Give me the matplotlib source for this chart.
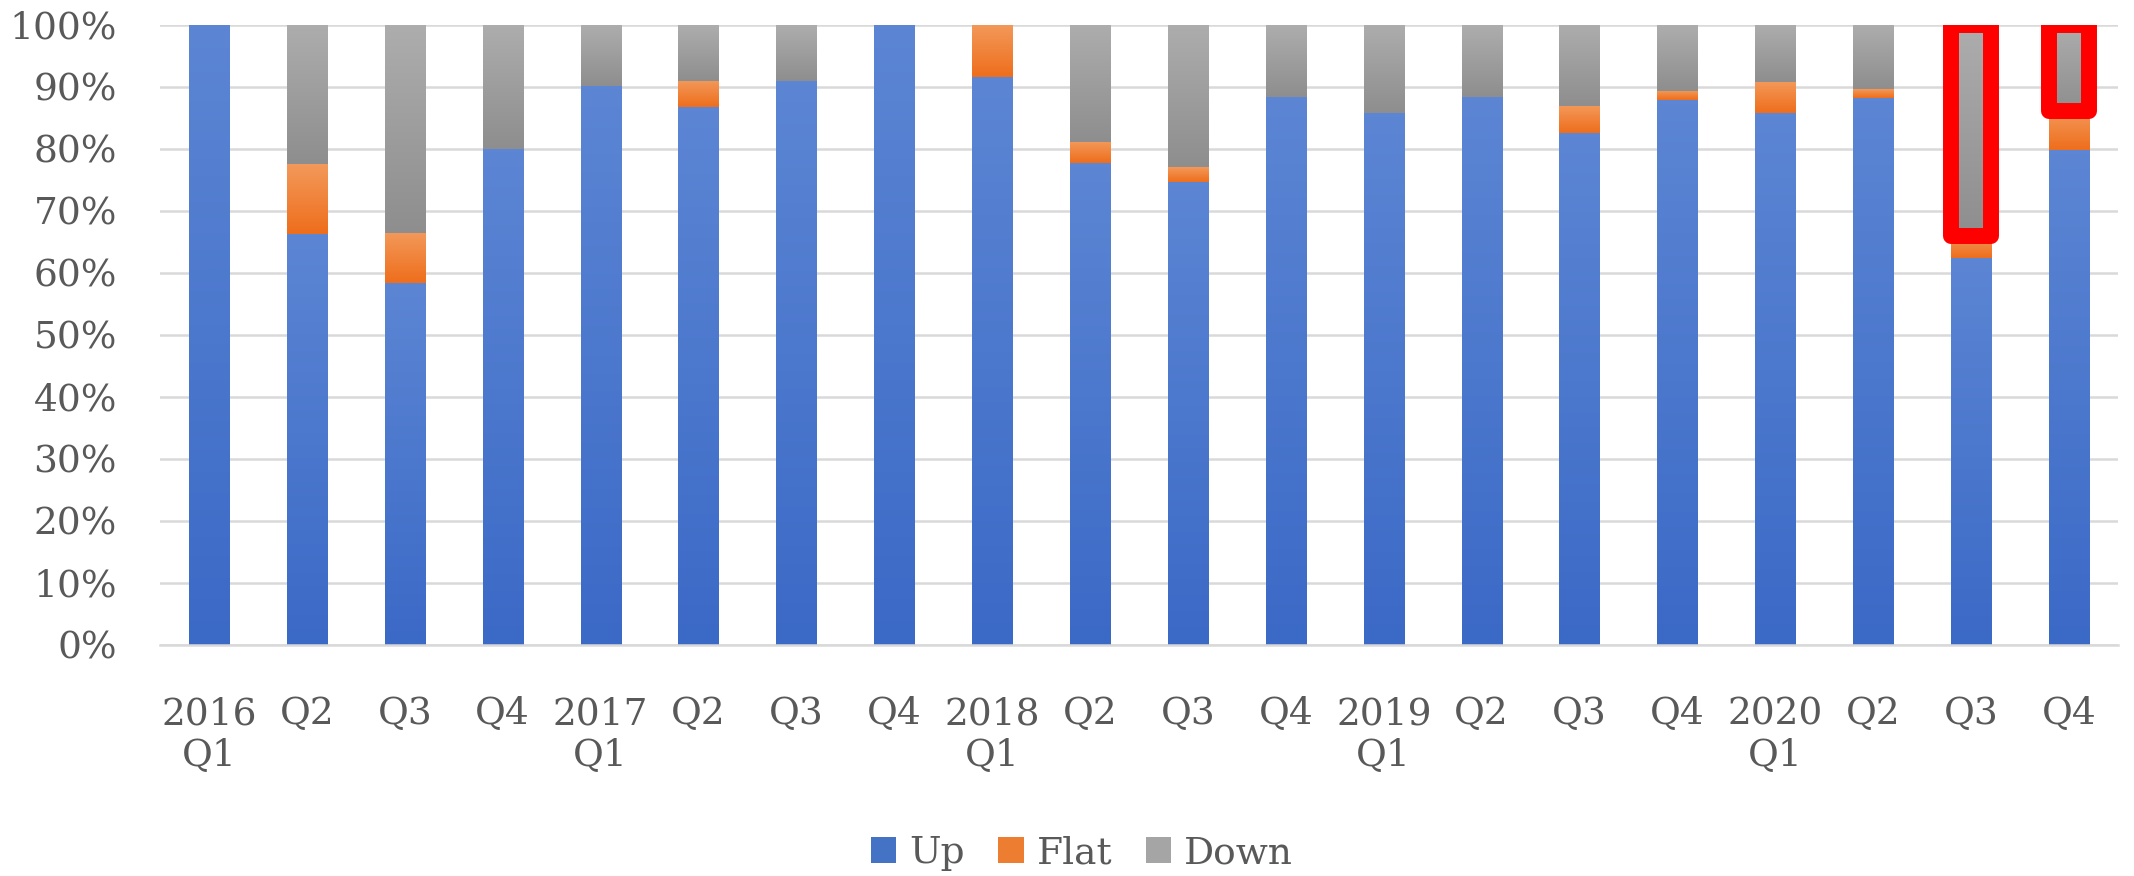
import matplotlib
matplotlib.use("Agg")
import matplotlib.pyplot as plt
import numpy as np
from matplotlib.colors import LinearSegmentedColormap
from matplotlib.patches import Patch, Rectangle

# share of stocks per quarter (%)
quarters = ["2016\nQ1", "Q2", "Q3", "Q4", "2017\nQ1", "Q2", "Q3", "Q4",
            "2018\nQ1", "Q2", "Q3", "Q4", "2019\nQ1", "Q2", "Q3", "Q4",
            "2020\nQ1", "Q2", "Q3", "Q4"]
up = [100.0, 66.3, 58.3, 80.0, 90.2, 86.7, 91.0, 100.0, 91.6, 77.7,
      74.6, 88.4, 85.7, 88.4, 82.5, 87.8, 85.8, 88.2, 62.4, 79.8]
flat = [0.0, 11.2, 8.2, 0.0, 0.0, 4.3, 0.0, 0.0, 8.4, 3.4,
        2.4, 0.0, 0.0, 0.0, 4.4, 1.6, 5.0, 1.4, 3.6, 6.3]
down = [0.0, 22.5, 33.5, 20.0, 9.8, 9.0, 9.0, 0.0, 0.0, 18.9,
        23.0, 11.6, 14.3, 11.6, 13.1, 10.6, 9.2, 10.4, 34.0, 13.9]
series_names = ["Up", "Flat", "Down"]
highlight = [18, 19]   # quarters whose "Down" share is boxed in red

TEXT = "#595959"
GRID = "#D9D9D9"
base_colors = ["#4472C4", "#ED7D31", "#A5A5A5"]
# (top, bottom) gradient colours of each series
grad_colors = [("#5C86D4", "#3B69C6"), ("#F3995A", "#EE6E1C"), ("#ADADAD", "#8E8E8E")]

plt.rcParams["font.family"] = ["DejaVu Serif"]
plt.rcParams["font.size"] = 27

fig = plt.figure(figsize=(21.34, 8.76), dpi=100)
ax = fig.add_axes([0.075, 0.2637, 0.9175, 0.708])

x = np.arange(len(quarters))
width = 0.41
bottom = np.zeros(len(quarters))
grad = np.linspace(0, 1, 128).reshape(-1, 1)
for vals, name, col, (top_c, bot_c) in zip([up, flat, down], series_names, base_colors, grad_colors):
    bars = ax.bar(x, vals, width, bottom=bottom, color=col, label=name, zorder=2)
    cmap = LinearSegmentedColormap.from_list(name, [top_c, bot_c])
    for b in bars:
        if b.get_height() <= 0:
            continue
        x0, y0 = b.get_x(), b.get_y()
        ax.imshow(grad, cmap=cmap, extent=(x0, x0 + b.get_width(), y0, y0 + b.get_height()),
                  origin="upper", aspect="auto", interpolation="bilinear", zorder=2.1)
    bottom = bottom + np.array(vals)

# red boxes around the "Down" part of the last two quarters
for i in highlight:
    y0 = up[i] + flat[i]
    ax.add_patch(Rectangle((x[i] - width / 2, y0), width, 100 - y0, fill=False,
                           edgecolor="#FF0000", linewidth=11.5, joinstyle="round", zorder=4))

ax.set_xlim(-0.5, len(quarters) - 0.5)
ax.set_ylim(0, 100)
ax.set_yticks(np.arange(0, 101, 10))
ax.set_yticklabels([f"{v}%" for v in range(0, 101, 10)])
ax.set_xticks(x)
ax.set_xticklabels(quarters, linespacing=1.2)
ax.yaxis.grid(True, color=GRID, linewidth=1.8, zorder=0)
ax.set_axisbelow(True)
for side in ["top", "right", "left"]:
    ax.spines[side].set_visible(False)
ax.spines["bottom"].set_color(GRID)
ax.spines["bottom"].set_linewidth(1.8)
ax.tick_params(axis="y", length=0, pad=31, colors=TEXT)
ax.tick_params(axis="x", length=0, pad=37, colors=TEXT)

handles = [Patch(facecolor=c, label=n) for c, n in zip(base_colors, series_names)]
fig.legend(handles=handles, loc="center", bbox_to_anchor=(0.507, 0.026), ncol=3,
           frameon=False, handlelength=0.67, handleheight=0.67, handletextpad=0.35,
           columnspacing=0.9, labelcolor=TEXT)

fig.savefig("out.png", dpi=100)
